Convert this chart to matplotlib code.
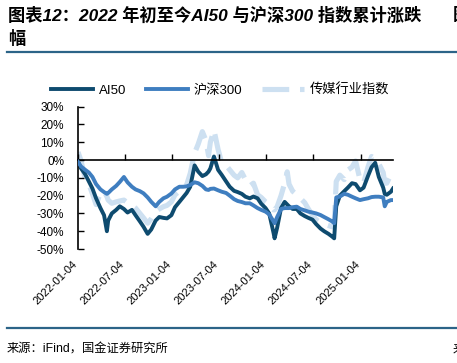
import matplotlib
matplotlib.use('Agg')
import matplotlib.pyplot as plt
import pandas as pd
from matplotlib.lines import Line2D

# ---------------- data ----------------
dates = [
    '2022-01-04', '2022-01-15', '2022-02-01', '2022-02-15', '2022-03-01', '2022-03-15',
    '2022-04-01', '2022-04-15', '2022-04-26', '2022-05-01', '2022-05-15', '2022-06-01',
    '2022-06-15', '2022-07-01', '2022-07-15', '2022-08-01', '2022-08-15', '2022-09-01',
    '2022-09-15', '2022-10-01', '2022-10-15', '2022-11-01', '2022-11-15', '2022-12-01',
    '2022-12-15', '2023-01-01', '2023-01-15', '2023-02-01', '2023-02-15', '2023-03-01',
    '2023-03-15', '2023-04-01', '2023-04-15', '2023-05-01', '2023-05-15', '2023-05-25',
    '2023-06-01', '2023-06-15', '2023-07-01', '2023-07-15', '2023-08-01', '2023-08-15',
    '2023-09-01', '2023-09-15', '2023-10-01', '2023-10-15', '2023-11-01', '2023-11-15',
    '2023-12-01', '2023-12-15', '2024-01-01', '2024-01-15', '2024-02-01', '2024-02-05',
    '2024-02-15', '2024-03-01', '2024-03-15', '2024-03-25', '2024-04-01', '2024-04-15',
    '2024-05-01', '2024-05-15', '2024-06-01', '2024-06-15', '2024-07-01', '2024-07-15',
    '2024-08-01', '2024-08-15', '2024-09-01', '2024-09-15', '2024-09-23', '2024-10-01',
    '2024-10-15', '2024-11-01', '2024-11-15', '2024-12-01', '2024-12-15', '2025-01-01',
    '2025-01-15', '2025-02-01', '2025-02-15', '2025-03-01', '2025-03-15', '2025-04-01',
    '2025-04-07', '2025-04-15', '2025-05-01', '2025-05-09',
]

ai50 = [
    -1.0, -4.5, -8.0, -12.0, -16.0, -21.5,
    -27.0, -31.0, -40.0, -34.0, -30.0, -28.0,
    -26.0, -27.5, -29.5, -28.0, -31.0, -34.5,
    -37.5, -41.5, -39.0, -34.0, -32.0, -32.5,
    -32.8, -31.0, -26.5, -23.5, -21.0, -18.5,
    -15.0, -3.0, -6.5, -9.0, -8.0, -6.5,
    -4.7, 2.0, -5.5, -8.3, -12.0, -15.0,
    -17.3, -18.0, -19.0, -20.6, -21.5, -20.5,
    -21.5, -24.5, -27.0, -30.0, -41.0, -44.0,
    -38.0, -27.0, -23.5, -25.0, -26.0, -27.5,
    -27.5, -30.0, -31.5, -32.5, -33.5, -36.0,
    -38.5, -40.0, -41.5, -43.0, -44.0, -26.0,
    -20.0, -17.5, -15.5, -13.0, -13.5, -17.0,
    -15.5, -9.0, -4.0, -1.5, -9.5, -15.5,
    -19.0, -19.5, -17.8, -16.0,
]

hs300 = [
    -1.0, -3.5, -5.5, -7.0, -9.5, -13.5,
    -16.5, -18.0, -19.0, -18.5, -16.5, -14.5,
    -12.3, -9.5, -12.5, -15.0, -16.5, -17.5,
    -18.7, -21.0, -23.5, -26.0, -23.5, -21.5,
    -20.6, -18.8, -16.5, -15.0, -15.0, -14.8,
    -14.0, -12.5, -13.0, -14.5, -16.5, -16.8,
    -16.2, -16.0, -17.0, -17.8, -18.5, -20.0,
    -22.0, -23.0, -23.6, -24.3, -24.3, -25.5,
    -27.0, -28.0, -29.0, -30.5, -34.5, -35.5,
    -32.0, -27.5, -27.0, -27.0, -27.0, -26.5,
    -26.2, -27.5, -28.3, -29.0, -29.5, -30.0,
    -30.9, -32.0, -33.3, -34.5, -35.5, -21.0,
    -20.5, -19.0, -19.5, -20.6, -21.5, -22.5,
    -22.0, -21.5, -20.8, -20.6, -20.6, -21.0,
    -26.0, -23.5, -22.5, -22.5,
]

media = [
    4.5, 0.0, -10.5, -13.5, -19.0, -25.0,
    -18.5, -17.5, -20.5, -22.5, -24.3, -23.5,
    -23.0, -22.5, -24.0, -25.5, -27.0, -30.0,
    -32.5, -35.5, -33.0, -29.0, -27.5, -26.2,
    -25.5, -23.5, -19.5, -17.5, -16.0, -14.0,
    -7.5, 4.0, 9.0, 16.0, 11.0, 2.5,
    10.0, 16.9, 6.0, -1.5, -3.0, -5.5,
    -8.5, -10.0, -7.0, -11.0, -14.5, -13.0,
    -19.5, -21.0, -23.5, -25.0, -28.0, -28.0,
    -26.2, -20.0, -13.0, -6.6, -13.5, -17.5,
    -19.5, -21.5, -24.0, -27.5, -31.0, -33.5,
    -35.2, -36.0, -36.8, -37.5, -36.0, -12.0,
    -8.5, -11.0, -5.6, -4.0, -0.5, -11.0,
    -13.0, -4.0, 2.0, 0.5, -2.0, -7.0,
    -13.0, -13.0, -8.0, -6.6,
]

series_names = ['AI50', '沪深300', '传媒行业指数']
tick_dates = ['2022-01-04', '2022-07-04', '2023-01-04', '2023-07-04',
              '2024-01-04', '2024-07-04', '2025-01-04']
y_ticks = [30, 20, 10, 0, -10, -20, -30, -40, -50]
title_line1 = '图表12：2022 年初至今AI50 与沪深300 指数累计涨跌'
title_line2 = '幅'
source_text = '来源：iFind，国金证券研究所'

# ---------------- style ----------------
c_dark = '#0e4b6f'
c_mid = '#3f7ec0'
c_light = '#cde0f1'
rule_color = '#2c6488'

plt.rcParams['font.family'] = ['Liberation Sans', 'Noto Sans CJK SC', 'DejaVu Sans']

W, H = 457, 363
fig = plt.figure(figsize=(W / 100, H / 100), dpi=100)

ax_l, ax_r, ax_t, ax_b = 78, 393, 106.7, 249
ax = fig.add_axes([ax_l / W, 1 - ax_b / H, (ax_r - ax_l) / W, (ax_b - ax_t) / H])

x = pd.to_datetime(dates)
light_ls = (0, (5.2, 2.1))
ax.plot(x, media, color=c_light, lw=3.7, linestyle=light_ls, zorder=1)
ax.plot(x, ai50, color=c_dark, lw=2.8, zorder=2)
ax.plot(x, hs300, color=c_mid, lw=2.8, zorder=3)

ax.set_xlim(x[0], x[-1])
ax.set_ylim(-50, 30)
ax.set_yticks(y_ticks)
ax.set_yticklabels([f'{v}%' for v in y_ticks])

for s in ['top', 'right']:
    ax.spines[s].set_visible(False)
ax.spines['bottom'].set_position(('data', 0))
ax.spines['bottom'].set_linewidth(1.2)
ax.spines['left'].set_linewidth(1.2)
ax.tick_params(axis='y', direction='in', length=4, width=1, labelsize=8.5, pad=10)

tx = pd.to_datetime(tick_dates)
ax.set_xticks(tx)
ax.tick_params(axis='x', direction='in', length=4, width=1, labelbottom=False)

for d, lab in zip(tx, tick_dates):
    ax.annotate(lab, xy=(d, 0), xycoords=('data', 'axes fraction'),
                xytext=(-4.3, -7), textcoords='offset points',
                rotation=45, ha='right', va='top', rotation_mode='anchor',
                fontsize=8)

# legend
handles = [
    Line2D([], [], color=c_dark, lw=2.8),
    Line2D([], [], color=c_mid, lw=2.8),
    Line2D([], [], color=c_light, lw=3.7, linestyle=light_ls),
]
fig.legend(handles, series_names, loc='center', bbox_to_anchor=(220 / W, 1 - 90 / H),
           ncol=3, frameon=False, fontsize=9.5, handlelength=3.2,
           handletextpad=0.4, columnspacing=1.5)

# title & decorations
fig.text(8 / W, 1 - 15 / H, title_line1, fontsize=12.4, fontweight='bold',
         style='italic', va='center', ha='left')
fig.text(8 / W, 1 - 38 / H, title_line2, fontsize=12.4, fontweight='bold',
         style='italic', va='center', ha='left')
fig.text(453 / W, 1 - 15 / H, '图', fontsize=12.4, fontweight='bold',
         va='center', ha='left')
fig.add_artist(Line2D([7 / W, 1], [1 - 52 / H] * 2, color=rule_color, lw=1.6))
fig.add_artist(Line2D([7 / W, 1], [1 - 328 / H] * 2, color=rule_color, lw=1.6))
fig.text(7 / W, 1 - 350 / H, source_text, fontsize=8.8, va='center', ha='left')
fig.text(453 / W, 1 - 350 / H, '来', fontsize=8.8, va='center', ha='left')

fig.savefig('out.png', dpi=100)
